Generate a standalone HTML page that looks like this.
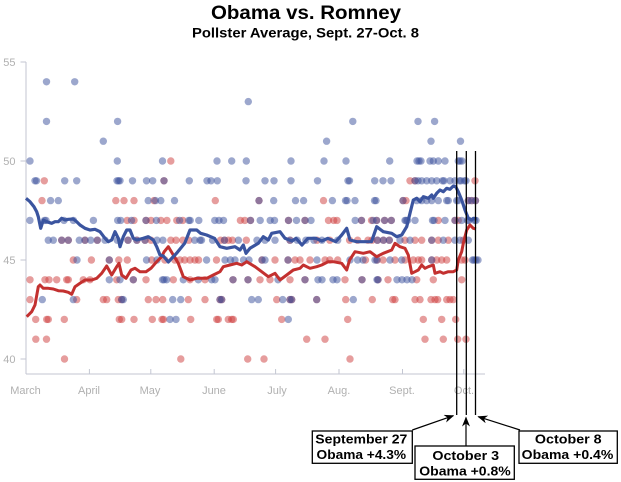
<!DOCTYPE html>
<html><head><meta charset="utf-8"><style>
html,body{margin:0;padding:0;background:#fff;}
svg{display:block;}
.t{font-family:"Liberation Sans",Arial,sans-serif;}
</style></head><body>
<svg width="621" height="482" viewBox="0 0 621 482" xmlns="http://www.w3.org/2000/svg">
<defs>
<marker id="ah" markerWidth="10" markerHeight="8" refX="9" refY="4" orient="auto" markerUnits="userSpaceOnUse">
<path d="M0,0 L10,4 L0,8 L3,4 z" fill="#000"/>
</marker>
</defs>
<rect width="621" height="482" fill="#fff"/>
<!-- titles -->
<text class="t" x="306" y="19" font-size="19" font-weight="bold" text-anchor="middle" textLength="190" lengthAdjust="spacingAndGlyphs">Obama vs. Romney</text>
<text class="t" x="305.5" y="37.7" font-size="13.5" font-weight="bold" text-anchor="middle" textLength="227" lengthAdjust="spacingAndGlyphs">Pollster Average, Sept. 27-Oct. 8</text>

<!-- axes -->
<g stroke="#c3c6d2" stroke-width="1" fill="none">
<line x1="26" y1="62" x2="26" y2="374"/>
<line x1="26" y1="374" x2="485" y2="374"/>
<line x1="20.5" y1="62" x2="26" y2="62"/>
<line x1="20.5" y1="161" x2="26" y2="161"/>
<line x1="20.5" y1="260" x2="26" y2="260"/>
<line x1="20.5" y1="359" x2="26" y2="359"/>
<line x1="89.4" y1="369" x2="89.4" y2="374"/>
<line x1="150.8" y1="369" x2="150.8" y2="374"/>
<line x1="214.2" y1="369" x2="214.2" y2="374"/>
<line x1="275.6" y1="369" x2="275.6" y2="374"/>
<line x1="339" y1="369" x2="339" y2="374"/>
<line x1="402.5" y1="369" x2="402.5" y2="374"/>
<line x1="463.8" y1="369" x2="463.8" y2="374"/>
</g>
<g class="t" font-size="11" fill="#b0b0b0" text-anchor="end">
<text x="15.5" y="66">55</text>
<text x="15.5" y="165">50</text>
<text x="15.5" y="264">45</text>
<text x="15.5" y="363">40</text>
</g>
<g class="t" font-size="11" fill="#b0b0b0" text-anchor="middle">
<text x="25.5" y="394">March</text>
<text x="89" y="394">April</text>
<text x="150" y="394">May</text>
<text x="214" y="394">June</text>
<text x="277" y="394">July</text>
<text x="339" y="394">Aug.</text>
<text x="402" y="394">Sept.</text>
<text x="464" y="394">Oct.</text>
</g>

<!-- red dots -->
<g fill="rgba(205,60,60,0.5)">
<g transform="translate(0,161)"><circle cx="170.8" r="3.7"/></g>
<g transform="translate(0,180.8)"><circle cx="44.3" r="3.7"/><circle cx="164" r="3.7"/><circle cx="410" r="3.7"/><circle cx="415" r="3.7"/><circle cx="475" r="3.7"/></g>
<g transform="translate(0,200.6)"><circle cx="42" r="3.7"/><circle cx="115.8" r="3.7"/><circle cx="124" r="3.7"/><circle cx="134" r="3.7"/><circle cx="154" r="3.7"/><circle cx="215.3" r="3.7"/><circle cx="259" r="3.7"/><circle cx="323.5" r="3.7"/><circle cx="403" r="3.7"/><circle cx="406" r="3.7"/><circle cx="468.3" r="3.7"/><circle cx="471.7" r="3.7"/><circle cx="475.5" r="3.7"/></g>
<g transform="translate(0,220.4)"><circle cx="127.2" r="3.7"/><circle cx="134" r="3.7"/><circle cx="146" r="3.7"/><circle cx="151" r="3.7"/><circle cx="160.9" r="3.7"/><circle cx="166.9" r="3.7"/><circle cx="176.8" r="3.7"/><circle cx="182.8" r="3.7"/><circle cx="240.4" r="3.7"/><circle cx="244.8" r="3.7"/><circle cx="250.5" r="3.7"/><circle cx="288.5" r="3.7"/><circle cx="305" r="3.7"/><circle cx="328.5" r="3.7"/><circle cx="333.7" r="3.7"/><circle cx="337" r="3.7"/><circle cx="361.5" r="3.7"/><circle cx="371.5" r="3.7"/><circle cx="376.6" r="3.7"/><circle cx="384.6" r="3.7"/><circle cx="391.3" r="3.7"/><circle cx="438.3" r="3.7"/><circle cx="455" r="3.7"/><circle cx="458.3" r="3.7"/></g>
<g transform="translate(0,240.2)"><circle cx="61.7" r="3.7"/><circle cx="68.3" r="3.7"/><circle cx="85" r="3.7"/><circle cx="97.3" r="3.7"/><circle cx="128" r="3.7"/><circle cx="137" r="3.7"/><circle cx="145" r="3.7"/><circle cx="151" r="3.7"/><circle cx="170.8" r="3.7"/><circle cx="176" r="3.7"/><circle cx="182.8" r="3.7"/><circle cx="188.7" r="3.7"/><circle cx="220.5" r="3.7"/><circle cx="224.5" r="3.7"/><circle cx="228.4" r="3.7"/><circle cx="232.4" r="3.7"/><circle cx="246.3" r="3.7"/><circle cx="290" r="3.7"/><circle cx="317" r="3.7"/><circle cx="329.8" r="3.7"/><circle cx="349.6" r="3.7"/><circle cx="357.6" r="3.7"/><circle cx="368" r="3.7"/><circle cx="372" r="3.7"/><circle cx="377.4" r="3.7"/><circle cx="383.4" r="3.7"/><circle cx="389.3" r="3.7"/><circle cx="405" r="3.7"/><circle cx="415" r="3.7"/><circle cx="421.7" r="3.7"/><circle cx="431.7" r="3.7"/><circle cx="438.3" r="3.7"/><circle cx="448.3" r="3.7"/><circle cx="463.3" r="3.7"/></g>
<g transform="translate(0,260)"><circle cx="73.3" r="3.7"/><circle cx="91.4" r="3.7"/><circle cx="109.3" r="3.7"/><circle cx="118.8" r="3.7"/><circle cx="127.3" r="3.7"/><circle cx="151.7" r="3.7"/><circle cx="164.9" r="3.7"/><circle cx="174.8" r="3.7"/><circle cx="180" r="3.7"/><circle cx="184.7" r="3.7"/><circle cx="190" r="3.7"/><circle cx="195" r="3.7"/><circle cx="198.6" r="3.7"/><circle cx="216.5" r="3.7"/><circle cx="262" r="3.7"/><circle cx="275" r="3.7"/><circle cx="288" r="3.7"/><circle cx="295" r="3.7"/><circle cx="300" r="3.7"/><circle cx="310" r="3.7"/><circle cx="325" r="3.7"/><circle cx="329.8" r="3.7"/><circle cx="337.7" r="3.7"/><circle cx="365.5" r="3.7"/><circle cx="377" r="3.7"/><circle cx="383" r="3.7"/><circle cx="395" r="3.7"/><circle cx="405" r="3.7"/><circle cx="413.3" r="3.7"/><circle cx="418.3" r="3.7"/><circle cx="421.7" r="3.7"/><circle cx="431.7" r="3.7"/><circle cx="436.7" r="3.7"/><circle cx="441.7" r="3.7"/><circle cx="446.7" r="3.7"/><circle cx="461.7" r="3.7"/><circle cx="465" r="3.7"/></g>
<g transform="translate(0,279.8)"><circle cx="30" r="3.7"/><circle cx="45" r="3.7"/><circle cx="49" r="3.7"/><circle cx="56.7" r="3.7"/><circle cx="66.7" r="3.7"/><circle cx="68.3" r="3.7"/><circle cx="83.3" r="3.7"/><circle cx="90" r="3.7"/><circle cx="116.7" r="3.7"/><circle cx="133.3" r="3.7"/><circle cx="146" r="3.7"/><circle cx="173.3" r="3.7"/><circle cx="190" r="3.7"/><circle cx="205" r="3.7"/><circle cx="233" r="3.7"/><circle cx="248" r="3.7"/><circle cx="260" r="3.7"/><circle cx="270" r="3.7"/><circle cx="290" r="3.7"/><circle cx="305" r="3.7"/><circle cx="345" r="3.7"/><circle cx="362" r="3.7"/><circle cx="378" r="3.7"/><circle cx="388" r="3.7"/><circle cx="416.7" r="3.7"/><circle cx="433.3" r="3.7"/><circle cx="461.7" r="3.7"/></g>
<g transform="translate(0,299.6)"><circle cx="30" r="3.7"/><circle cx="76.7" r="3.7"/><circle cx="103.3" r="3.7"/><circle cx="106.7" r="3.7"/><circle cx="118.3" r="3.7"/><circle cx="121.7" r="3.7"/><circle cx="148.3" r="3.7"/><circle cx="156" r="3.7"/><circle cx="162.7" r="3.7"/><circle cx="188.3" r="3.7"/><circle cx="205" r="3.7"/><circle cx="220" r="3.7"/><circle cx="221.7" r="3.7"/><circle cx="276.7" r="3.7"/><circle cx="290" r="3.7"/><circle cx="291.7" r="3.7"/><circle cx="316.7" r="3.7"/><circle cx="345.7" r="3.7"/><circle cx="372.3" r="3.7"/><circle cx="392.7" r="3.7"/><circle cx="395" r="3.7"/><circle cx="415" r="3.7"/><circle cx="420" r="3.7"/><circle cx="431" r="3.7"/><circle cx="435" r="3.7"/><circle cx="437.7" r="3.7"/><circle cx="446.7" r="3.7"/><circle cx="450" r="3.7"/><circle cx="453.3" r="3.7"/></g>
<g transform="translate(0,319.4)"><circle cx="35.7" r="3.7"/><circle cx="46.7" r="3.7"/><circle cx="48.3" r="3.7"/><circle cx="64.3" r="3.7"/><circle cx="119.3" r="3.7"/><circle cx="121.7" r="3.7"/><circle cx="134" r="3.7"/><circle cx="152.3" r="3.7"/><circle cx="162" r="3.7"/><circle cx="163.5" r="3.7"/><circle cx="190.7" r="3.7"/><circle cx="216.7" r="3.7"/><circle cx="218.3" r="3.7"/><circle cx="228.3" r="3.7"/><circle cx="231.7" r="3.7"/><circle cx="233.3" r="3.7"/><circle cx="281.7" r="3.7"/><circle cx="347.7" r="3.7"/><circle cx="423.3" r="3.7"/><circle cx="441.7" r="3.7"/><circle cx="455.7" r="3.7"/></g>
<g transform="translate(0,339.2)"><circle cx="35.8" r="3.7"/><circle cx="46.5" r="3.7"/><circle cx="306.7" r="3.7"/><circle cx="325" r="3.7"/><circle cx="425" r="3.7"/><circle cx="443.3" r="3.7"/><circle cx="457.7" r="3.7"/><circle cx="466" r="3.7"/></g>
<g transform="translate(0,359)"><circle cx="64.5" r="3.7"/><circle cx="180.8" r="3.7"/><circle cx="247.7" r="3.7"/><circle cx="264" r="3.7"/><circle cx="350" r="3.7"/></g>
</g>

<!-- blue dots -->
<g fill="rgba(58,80,155,0.5)">
<g transform="translate(0,81.8)"><circle cx="46.5" r="3.7"/><circle cx="74.7" r="3.7"/></g>
<g transform="translate(0,101.6)"><circle cx="248.3" r="3.7"/></g>
<g transform="translate(0,121.4)"><circle cx="46.5" r="3.7"/><circle cx="117.6" r="3.7"/><circle cx="352.8" r="3.7"/><circle cx="418" r="3.7"/><circle cx="434.6" r="3.7"/></g>
<g transform="translate(0,141.2)"><circle cx="103.3" r="3.7"/><circle cx="326.6" r="3.7"/><circle cx="431" r="3.7"/><circle cx="460.5" r="3.7"/></g>
<g transform="translate(0,161)"><circle cx="30" r="3.7"/><circle cx="117.3" r="3.7"/><circle cx="162.5" r="3.7"/><circle cx="217" r="3.7"/><circle cx="231.7" r="3.7"/><circle cx="246.3" r="3.7"/><circle cx="291" r="3.7"/><circle cx="324" r="3.7"/><circle cx="346" r="3.7"/><circle cx="389.7" r="3.7"/><circle cx="417" r="3.7"/><circle cx="419" r="3.7"/><circle cx="421" r="3.7"/><circle cx="430" r="3.7"/><circle cx="433.3" r="3.7"/><circle cx="438.3" r="3.7"/><circle cx="445" r="3.7"/><circle cx="458.3" r="3.7"/><circle cx="460" r="3.7"/><circle cx="462" r="3.7"/></g>
<g transform="translate(0,180.8)"><circle cx="35" r="3.7"/><circle cx="36.5" r="3.7"/><circle cx="64.7" r="3.7"/><circle cx="76.7" r="3.7"/><circle cx="117" r="3.7"/><circle cx="118.5" r="3.7"/><circle cx="120" r="3.7"/><circle cx="132.5" r="3.7"/><circle cx="146.5" r="3.7"/><circle cx="152.7" r="3.7"/><circle cx="164" r="3.7"/><circle cx="189.3" r="3.7"/><circle cx="207" r="3.7"/><circle cx="211" r="3.7"/><circle cx="217.3" r="3.7"/><circle cx="246" r="3.7"/><circle cx="265" r="3.7"/><circle cx="274" r="3.7"/><circle cx="291" r="3.7"/><circle cx="317.5" r="3.7"/><circle cx="348" r="3.7"/><circle cx="349.5" r="3.7"/><circle cx="374.7" r="3.7"/><circle cx="383" r="3.7"/><circle cx="391" r="3.7"/><circle cx="415" r="3.7"/><circle cx="418" r="3.7"/><circle cx="421.7" r="3.7"/><circle cx="426.7" r="3.7"/><circle cx="431.7" r="3.7"/><circle cx="436.7" r="3.7"/><circle cx="442.5" r="3.7"/><circle cx="444" r="3.7"/><circle cx="450" r="3.7"/><circle cx="455" r="3.7"/><circle cx="459.5" r="3.7"/><circle cx="461" r="3.7"/><circle cx="464.5" r="3.7"/><circle cx="466" r="3.7"/></g>
<g transform="translate(0,200.6)"><circle cx="50.6" r="3.7"/><circle cx="58.3" r="3.7"/><circle cx="148.2" r="3.7"/><circle cx="155.5" r="3.7"/><circle cx="160.8" r="3.7"/><circle cx="174.5" r="3.7"/><circle cx="259" r="3.7"/><circle cx="273.7" r="3.7"/><circle cx="295.5" r="3.7"/><circle cx="303.6" r="3.7"/><circle cx="332.4" r="3.7"/><circle cx="345.5" r="3.7"/><circle cx="347" r="3.7"/><circle cx="355" r="3.7"/><circle cx="374.5" r="3.7"/><circle cx="376" r="3.7"/><circle cx="403" r="3.7"/><circle cx="416.7" r="3.7"/><circle cx="421.7" r="3.7"/><circle cx="426.7" r="3.7"/><circle cx="431.7" r="3.7"/><circle cx="438.3" r="3.7"/><circle cx="446.7" r="3.7"/><circle cx="448.3" r="3.7"/><circle cx="456.7" r="3.7"/><circle cx="458.3" r="3.7"/><circle cx="468.3" r="3.7"/><circle cx="471.7" r="3.7"/><circle cx="475.5" r="3.7"/></g>
<g transform="translate(0,220.4)"><circle cx="29.9" r="3.7"/><circle cx="44.5" r="3.7"/><circle cx="46" r="3.7"/><circle cx="64" r="3.7"/><circle cx="73.4" r="3.7"/><circle cx="93.4" r="3.7"/><circle cx="117.7" r="3.7"/><circle cx="120.7" r="3.7"/><circle cx="131.5" r="3.7"/><circle cx="146" r="3.7"/><circle cx="156.4" r="3.7"/><circle cx="179.6" r="3.7"/><circle cx="188.8" r="3.7"/><circle cx="190.2" r="3.7"/><circle cx="198.8" r="3.7"/><circle cx="214.8" r="3.7"/><circle cx="219" r="3.7"/><circle cx="223.5" r="3.7"/><circle cx="250.5" r="3.7"/><circle cx="260.2" r="3.7"/><circle cx="270.2" r="3.7"/><circle cx="274.5" r="3.7"/><circle cx="288.5" r="3.7"/><circle cx="296.5" r="3.7"/><circle cx="305" r="3.7"/><circle cx="311" r="3.7"/><circle cx="355.2" r="3.7"/><circle cx="361.5" r="3.7"/><circle cx="373" r="3.7"/><circle cx="376.6" r="3.7"/><circle cx="384.6" r="3.7"/><circle cx="391.3" r="3.7"/><circle cx="405" r="3.7"/><circle cx="406" r="3.7"/><circle cx="407.5" r="3.7"/><circle cx="415" r="3.7"/><circle cx="432.5" r="3.7"/><circle cx="434" r="3.7"/><circle cx="445" r="3.7"/><circle cx="455" r="3.7"/><circle cx="461.7" r="3.7"/><circle cx="467.5" r="3.7"/><circle cx="469" r="3.7"/><circle cx="474.5" r="3.7"/><circle cx="476" r="3.7"/></g>
<g transform="translate(0,240.2)"><circle cx="48.3" r="3.7"/><circle cx="53.3" r="3.7"/><circle cx="61.7" r="3.7"/><circle cx="68.3" r="3.7"/><circle cx="79.3" r="3.7"/><circle cx="85" r="3.7"/><circle cx="90.7" r="3.7"/><circle cx="97.3" r="3.7"/><circle cx="105" r="3.7"/><circle cx="117.3" r="3.7"/><circle cx="128" r="3.7"/><circle cx="136.7" r="3.7"/><circle cx="145" r="3.7"/><circle cx="157" r="3.7"/><circle cx="162.9" r="3.7"/><circle cx="194.7" r="3.7"/><circle cx="200" r="3.7"/><circle cx="201.5" r="3.7"/><circle cx="212.6" r="3.7"/><circle cx="224.5" r="3.7"/><circle cx="238.4" r="3.7"/><circle cx="257" r="3.7"/><circle cx="265" r="3.7"/><circle cx="275" r="3.7"/><circle cx="290" r="3.7"/><circle cx="297.2" r="3.7"/><circle cx="305.9" r="3.7"/><circle cx="313.9" r="3.7"/><circle cx="322" r="3.7"/><circle cx="337.7" r="3.7"/><circle cx="377.4" r="3.7"/><circle cx="383.4" r="3.7"/><circle cx="389.3" r="3.7"/><circle cx="400" r="3.7"/><circle cx="410" r="3.7"/><circle cx="431.7" r="3.7"/><circle cx="443.3" r="3.7"/><circle cx="455" r="3.7"/><circle cx="460" r="3.7"/><circle cx="468.3" r="3.7"/></g>
<g transform="translate(0,260)"><circle cx="77" r="3.7"/><circle cx="109.3" r="3.7"/><circle cx="146.5" r="3.7"/><circle cx="157" r="3.7"/><circle cx="206.6" r="3.7"/><circle cx="225" r="3.7"/><circle cx="230.4" r="3.7"/><circle cx="235" r="3.7"/><circle cx="243.5" r="3.7"/><circle cx="249" r="3.7"/><circle cx="262" r="3.7"/><circle cx="265" r="3.7"/><circle cx="288" r="3.7"/><circle cx="317" r="3.7"/><circle cx="350" r="3.7"/><circle cx="357.6" r="3.7"/><circle cx="363" r="3.7"/><circle cx="375" r="3.7"/><circle cx="377" r="3.7"/><circle cx="390" r="3.7"/><circle cx="401.7" r="3.7"/><circle cx="431.7" r="3.7"/><circle cx="472.5" r="3.7"/><circle cx="474" r="3.7"/><circle cx="476" r="3.7"/><circle cx="478" r="3.7"/></g>
<g transform="translate(0,279.8)"><circle cx="109.3" r="3.7"/><circle cx="120" r="3.7"/><circle cx="133.3" r="3.7"/><circle cx="162.5" r="3.7"/><circle cx="164" r="3.7"/><circle cx="166.7" r="3.7"/><circle cx="183.3" r="3.7"/><circle cx="198.3" r="3.7"/><circle cx="211.7" r="3.7"/><circle cx="215" r="3.7"/><circle cx="233" r="3.7"/><circle cx="248" r="3.7"/><circle cx="278" r="3.7"/><circle cx="305" r="3.7"/><circle cx="318" r="3.7"/><circle cx="322" r="3.7"/><circle cx="333" r="3.7"/><circle cx="337" r="3.7"/><circle cx="362" r="3.7"/><circle cx="377" r="3.7"/><circle cx="378" r="3.7"/><circle cx="397" r="3.7"/><circle cx="402" r="3.7"/><circle cx="407" r="3.7"/><circle cx="412" r="3.7"/></g>
<g transform="translate(0,299.6)"><circle cx="42.3" r="3.7"/><circle cx="73.3" r="3.7"/><circle cx="121.7" r="3.7"/><circle cx="123.3" r="3.7"/><circle cx="172.7" r="3.7"/><circle cx="180.7" r="3.7"/><circle cx="220" r="3.7"/><circle cx="221.7" r="3.7"/><circle cx="251.7" r="3.7"/><circle cx="258.3" r="3.7"/><circle cx="282.7" r="3.7"/><circle cx="290" r="3.7"/><circle cx="291.7" r="3.7"/><circle cx="316.7" r="3.7"/><circle cx="353.3" r="3.7"/></g>
<g transform="translate(0,319.4)"><circle cx="170" r="3.7"/><circle cx="176" r="3.7"/><circle cx="288.3" r="3.7"/></g>
</g>

<!-- average lines -->
<polyline fill="none" stroke="#c3302f" stroke-width="3" stroke-linejoin="round" points="26.7,316.7 31.7,311.7 35,305 38.3,286.7 40,285 43.3,288.3 48.3,288.3 53.3,289 58.3,290.7 63.3,291 68.3,292.3 71.7,294.3 75,286.7 80,283.3 85,280 91.7,280 96.7,278.3 101.7,273.3 106.7,266 111.7,275 116.7,266.7 119,263.3 121.7,275 126,278.3 131,270 135,268.3 140,271.7 146,271.7 151,268.3 156.7,261.7 161.7,256.7 164,252 168.3,246.7 173.3,255 178.3,263.3 183.3,276.7 190,280 196.7,278.3 206.7,278.3 213.3,275 220,271.7 223.3,266.7 230,265 236.7,263.3 241.7,265 246.7,261.7 255,266.7 261.7,271.7 268.3,276.7 275,273.3 280,280 286.7,275 293.3,270 300,268.3 303.3,265 310,268.3 316.7,266.7 321.7,265 328.3,261.7 333.3,261.7 341.7,263.3 346.7,270 349.6,260 355,251.7 363.3,253.3 370,251.7 376.7,256.7 383.3,253.3 391.7,250 395,243.3 400,246.7 405,248.3 408.3,255 411.7,273.3 415,271.7 418.3,270 421.7,265 425,268.3 428.3,266.7 433.3,265 435,273.3 440,271.7 443.3,273.3 448.3,271.7 453.3,271.7 456.7,270 458.3,260 461.7,251.7 463.3,243.3 466.7,230 470,225 473.3,228.3 476,229"/>
<polyline fill="none" stroke="#3a549f" stroke-width="3.2" stroke-linejoin="round" points="26,198.3 30,201.7 34,206.7 36.7,211.7 38.3,216.7 40.7,228.3 43.3,220 46.7,221.7 51.7,223.3 55,221.7 58.3,221.7 61.7,218.3 65,220 68.3,219.3 73.3,219 76.7,221.7 80,225 85,228.3 90,230 95,229.3 100,231.7 105,238.3 108.3,241.7 111.7,240 115,231.7 118.3,238.3 120,246.7 123.3,236.7 126.7,230 130,230 133.3,238.3 136.7,240 143.3,238.3 148.3,236.7 153.3,240 156.7,246.7 160,255 163.3,256 168.3,262 172,258 176.8,253 184.7,243.3 190,230 196.7,230 200.6,233.3 206.6,235 214.5,238.3 220,246.7 226.7,248.3 235,246.7 240,250 243.3,245 246,253.3 250,248.3 258.3,243.3 263.3,236.7 268.3,240 271.7,233.3 280,231.7 285,238.3 292,241 296,238.3 302,245 307.9,238.3 315.9,238.3 321.8,241 327.8,238.3 335.7,241.7 341.7,235 346.7,228.3 350,240 356.7,241.7 361.5,241.7 371.5,241.7 376.7,226.7 383.3,231.7 391.7,233.3 396.7,236.7 401.7,235 406.7,226.7 410,213.3 413.3,200 416.7,198.3 420,201.7 423.3,196.7 428.3,198.3 431.7,195 433.3,198.3 436.7,193.3 440,190 443.3,191.7 446.7,188.3 450,189.3 453.3,186 455.7,186.7 458.3,191.7 461.7,200 465,210 468.3,218.3 471.7,220 473.3,218.3 477,219"/>

<!-- vertical marker lines -->
<g stroke="#000" stroke-width="1.3">
<line x1="456.7" y1="151" x2="456.7" y2="415"/>
<line x1="466.3" y1="151" x2="466.3" y2="415"/>
<line x1="475.5" y1="151" x2="475.5" y2="415"/>
</g>

<!-- arrows -->
<g stroke="#000" stroke-width="1.2" fill="none">
<line x1="412.3" y1="430" x2="453.3" y2="415.7" marker-end="url(#ah)"/>
<line x1="466" y1="446" x2="466" y2="417.5" marker-end="url(#ah)"/>
<line x1="520" y1="430" x2="478.3" y2="416.7" marker-end="url(#ah)"/>
</g>

<!-- annotation boxes -->
<g fill="#fff" stroke="#000" stroke-width="1.3">
<rect x="312.3" y="431" width="100" height="32.3"/>
<rect x="415" y="446" width="99.3" height="33.3"/>
<rect x="519" y="431" width="98.3" height="32.3"/>
</g>
<g class="t" font-size="13" font-weight="bold" fill="#000" text-anchor="middle">
<text x="361.3" y="443.5" textLength="92" lengthAdjust="spacingAndGlyphs">September 27</text>
<text x="361.3" y="459" textLength="89.5" lengthAdjust="spacingAndGlyphs">Obama +4.3%</text>
<text x="465.7" y="460" textLength="66.7" lengthAdjust="spacingAndGlyphs">October 3</text>
<text x="465" y="475.3" textLength="91.4" lengthAdjust="spacingAndGlyphs">Obama +0.8%</text>
<text x="568.3" y="443.5" textLength="66.7" lengthAdjust="spacingAndGlyphs">October 8</text>
<text x="567.5" y="459" textLength="91.6" lengthAdjust="spacingAndGlyphs">Obama +0.4%</text>
</g>
</svg>
</body></html>
